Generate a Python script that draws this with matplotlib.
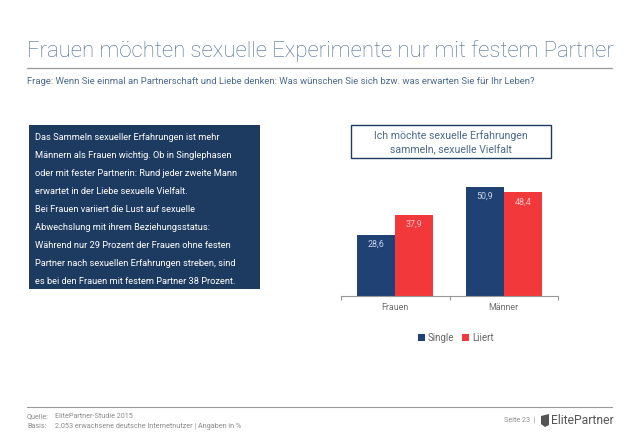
import matplotlib
matplotlib.use("Agg")
import matplotlib.pyplot as plt
from matplotlib.patches import Rectangle, Polygon
import numpy as np

categories = ["Frauen", "Männer"]
series_names = ["Single", "Liiert"]
single_vals = [28.6, 50.9]
liiert_vals = [37.9, 48.4]

W, H = 638, 442
NAVY = "#1f4174"
RED = "#f2383b"
BOX = "#1d3a60"
TITLE_C = "#4b6a8c"
GRAY = "#8a8a8a"

plt.rcParams['font.family'] = ['Roboto', 'DejaVu Sans']

fig = plt.figure(figsize=(W / 100, H / 100), dpi=100)


def fx(x):
    return x / W


def fy(y):
    return 1 - y / H


# Title
fig.text(fx(27), fy(51), "Frauen möchten sexuelle Experimente nur mit festem Partner",
         fontsize=15.9, color=TITLE_C, fontweight='light', va='center', ha='left')
fig.add_artist(plt.Line2D([fx(27), fx(612)], [fy(68), fy(68)], color="#9a9a9a", lw=0.9))
fig.text(fx(27), fy(82), "Frage: Wenn Sie einmal an Partnerschaft und Liebe denken: Was wünschen Sie sich bzw. was erwarten Sie für Ihr Leben?",
         fontsize=6.8, color=TITLE_C, va='center', ha='left')

# Dark info box
fig.add_artist(Rectangle((fx(29), fy(289)), fx(260) - fx(29), fy(125) - fy(289),
                         transform=fig.transFigure, facecolor=BOX, edgecolor='none'))
box_lines = [
    "Das Sammeln sexueller Erfahrungen ist mehr",
    "Männern als Frauen wichtig. Ob in Singlephasen",
    "oder mit fester Partnerin: Rund jeder zweite Mann",
    "erwartet in der Liebe sexuelle Vielfalt.",
    "Bei Frauen variiert die Lust auf sexuelle",
    "Abwechslung mit ihrem Beziehungsstatus:",
    "Während nur 29 Prozent der Frauen ohne festen",
    "Partner nach sexuellen Erfahrungen streben, sind",
    "es bei den Frauen mit festem Partner 38 Prozent.",
]
for i, line in enumerate(box_lines):
    fig.text(fx(35), fy(137.5 + i * 18.0), line, fontsize=6.7, color="white",
             va='center', ha='left')

# Chart title box
fig.add_artist(Rectangle((fx(351), fy(158)), fx(551) - fx(351), fy(125) - fy(158),
                         transform=fig.transFigure, facecolor='white', edgecolor=BOX, lw=1.0))
fig.text(fx(451), fy(135.5), "Ich möchte sexuelle Erfahrungen", fontsize=7.6,
         color=TITLE_C, ha='center', va='center')
fig.text(fx(451), fy(149.5), "sammeln, sexuelle Vielfalt", fontsize=7.6,
         color=TITLE_C, ha='center', va='center')

# Bar chart axes
ax_left, ax_right, ax_bottom = 341, 558, 296
ymax = 60
ax_top = ax_bottom - ymax * 2.14
ax = fig.add_axes([fx(ax_left), fy(ax_bottom), fx(ax_right) - fx(ax_left), fy(ax_top) - fy(ax_bottom)])
x = np.arange(len(categories))
bw = 0.35
b1 = ax.bar(x - bw / 2, single_vals, bw, color=NAVY, label=series_names[0])
b2 = ax.bar(x + bw / 2, liiert_vals, bw, color=RED, label=series_names[1])
ax.set_xlim(-0.5, 1.5)
ax.set_ylim(0, ymax)
for s in ['top', 'right', 'left']:
    ax.spines[s].set_visible(False)
ax.spines['bottom'].set_color('#999999')
ax.spines['bottom'].set_linewidth(0.8)
ax.set_yticks([])
ax.set_xticks([-0.5, 0.5, 1.5])
ax.set_xticklabels([])
ax.tick_params(axis='x', length=3, color='#999999', width=0.8)
ax.set_facecolor('none')
for xi, lab in zip(x, categories):
    ax.text(xi, -5.2, lab, ha='center', va='center', fontsize=6.4, color='#6d6d6d')

for rect, v in zip(b1, single_vals):
    ax.text(rect.get_x() + rect.get_width() / 2, v - 4.4, f"{v:.1f}".replace('.', ','),
            ha='center', va='center', fontsize=6.4, color='#c9d4e8')
for rect, v in zip(b2, liiert_vals):
    ax.text(rect.get_x() + rect.get_width() / 2, v - 4.4, f"{v:.1f}".replace('.', ','),
            ha='center', va='center', fontsize=6.4, color='#fbc4c4')

# Legend
leg = fig.legend(handles=[b1, b2], labels=series_names, loc='center',
                 bbox_to_anchor=(fx(456), fy(338)), ncol=2, frameon=False,
                 fontsize=7, handlelength=0.7, handleheight=0.7, handletextpad=0.35,
                 columnspacing=0.8, labelcolor='#666666')

# Footer
fig.add_artist(plt.Line2D([fx(27), fx(612)], [fy(406.5), fy(406.5)], color="#9a9a9a", lw=0.8))
fig.text(fx(27), fy(417), "Quelle:", fontsize=5.2, color=GRAY, va='center', ha='left')
fig.text(fx(55), fy(417), "ElitePartner-Studie 2015", fontsize=5.2, color=GRAY, va='center', ha='left')
fig.text(fx(27), fy(427), "Basis:", fontsize=5.2, color=GRAY, va='center', ha='left')
fig.text(fx(55), fy(427), "2.053 erwachsene deutsche Internetnutzer | Angaben in %", fontsize=5.2,
         color=GRAY, va='center', ha='left')
fig.text(fx(504), fy(420), "Seite 23  |", fontsize=5.2, color=GRAY, va='center', ha='left')
fig.add_artist(Polygon([[fx(541), fy(416)], [fx(549), fy(414)], [fx(549), fy(425)], [fx(545), fy(427)], [fx(541), fy(424)]],
                       closed=True, transform=fig.transFigure, facecolor='#555555', edgecolor='none'))
fig.text(fx(551), fy(420.5), "ElitePartner", fontsize=8.7, color='#555555', va='center', ha='left')

fig.savefig("out.png", dpi=100)
